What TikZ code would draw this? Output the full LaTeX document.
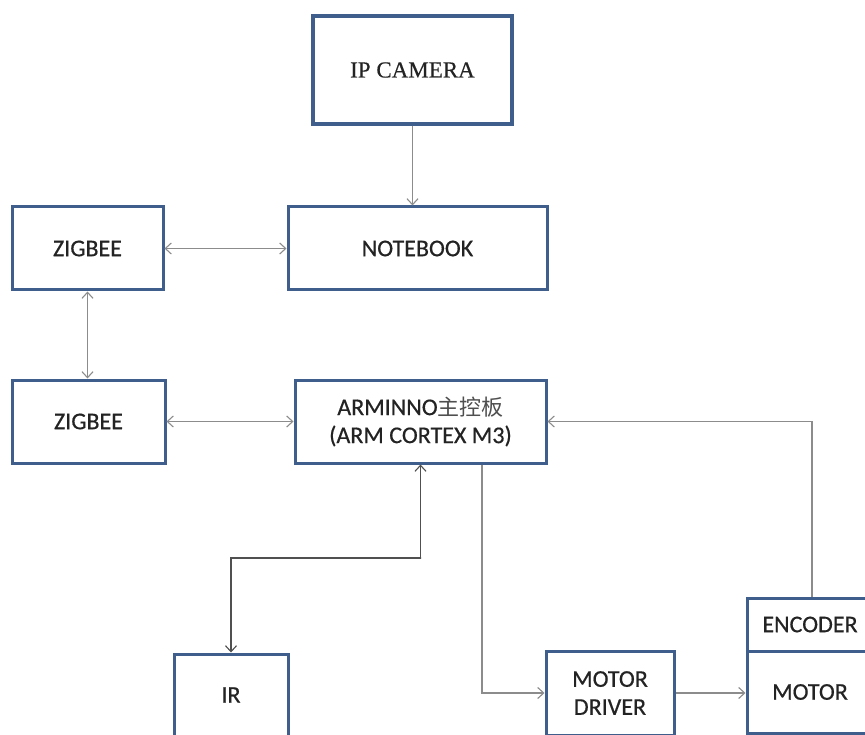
\documentclass[tikz,border=0pt]{standalone}
\usepackage{fontspec}
\setmainfont{Carlito}[FakeBold=0.5]
\newfontfamily\camfont{Liberation Serif}[FakeBold=0.35]
\newfontfamily\cjk{Noto Sans CJK SC}
\usetikzlibrary{arrows.meta,calc}
\definecolor{boxblue}{RGB}{64,94,140}
\definecolor{wire}{RGB}{140,140,140}
\definecolor{wiredark}{RGB}{80,80,80}
\definecolor{ink}{RGB}{35,35,35}
\begin{document}
\begin{tikzpicture}[x=1pt,y=-1pt,
  box/.style={draw=boxblue,line width=3pt,rectangle,fill=white,text=ink,
    font=\fontsize{24}{28}\selectfont,align=center,inner sep=0pt},
  tip/.style={-{Straight Barb[length=6pt,width=11pt,line width=1.1pt]}},
  tips/.style={{Straight Barb[length=6pt,width=11pt,line width=1.1pt]}-{Straight Barb[length=6pt,width=11pt,line width=1.1pt]}},
  link/.style={draw=wire,line width=1.3pt}]
\clip (0,0) rectangle (865,735);
\useasboundingbox (0,0) rectangle (865,735);
\fill[white] (0,0) rectangle (865,735);

% blocks
\node[box,line width=3.4pt,minimum width=199pt,minimum height=108pt,font=\camfont\fontsize{23}{28}\selectfont] (cam) at (412.5,70) {IP CAMERA};
\node[box,minimum width=259pt,minimum height=83pt] (nb) at (417.5,248.5) {NOTEBOOK};
\node[box,minimum width=151pt,minimum height=83pt] (zt) at (87.5,248.5) {ZIGBEE};
\node[box,minimum width=153pt,minimum height=83pt] (zb) at (88.5,421.5) {ZIGBEE};
\node[box,minimum width=251pt,minimum height=83pt] (arm) at (420.5,421.5)
  {ARMINNO{\cjk\fontsize{22}{28}\selectfont\color{ink!80}主控板}\\(ARM CORTEX M3)};
\node[box,minimum width=114pt,minimum height=82pt] (ir) at (231,695) {IR};
\node[box,minimum width=128pt,minimum height=84pt] (md) at (610,693) {MOTOR\\DRIVER};
\node[box,minimum width=126pt,minimum height=82pt] (mot) at (810,692) {MOTOR};
\node[box,minimum width=126pt,minimum height=53pt] (enc) at (810,624.5) {ENCODER};

% connectors
\draw[link,tip] (cam.south) -- (cam.south |- nb.north);
\draw[link,tips] (zt.east) -- (nb.west);
\draw[link,tips] (zt.south) -- (zt.south |- zb.north);
\draw[link,tips] (zb.east) -- (arm.west);
\coordinate (irbend) at (421,558);
\draw[link,draw=wiredark,tips] (ir.north) |- (irbend) -| (arm.south);
\draw[link,tip] ($(arm.south)+(61.5,0)$) |- (md.west);
\draw[link,tip] (md.east) -- (md.east -| mot.west);
\draw[link,tip] ($(enc.north)+(2,0)$) |- (arm.east);
\end{tikzpicture}
\end{document}
